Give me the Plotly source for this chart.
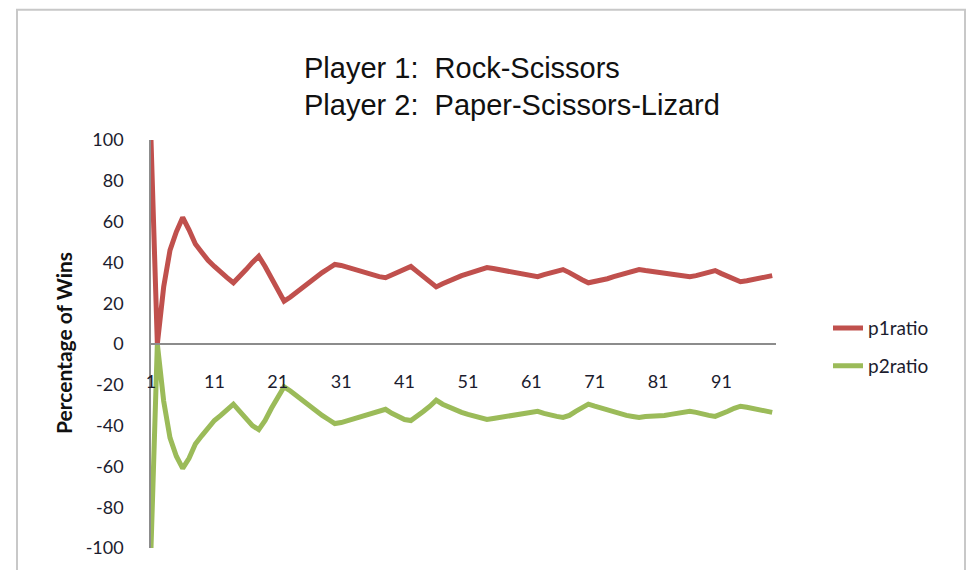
import plotly.graph_objects as go

# Game number (1..99) and running win percentages for each player
games = list(range(1, 100))

p1ratio = [
    100, 0, 28, 46, 55, 62, 56, 49, 45, 41,
    38, 35, 32.5, 30, 33, 36.5, 40, 43, 38, 32,
    26, 21, 23, 25.5, 27.5, 30, 32.5, 35, 37, 39,
    38.5, 37.5, 37, 36, 35, 34, 33, 32.5, 34, 35.5,
    37, 38, 35.5, 33, 30.5, 28, 29.5, 31, 32, 33.5,
    34.5, 35.5, 36.5, 37.5, 37, 36.5, 36, 35.5, 35, 34,
    33.5, 33, 34, 35, 35.5, 36.5, 35, 33, 31.5, 30,
    30.5, 31.5, 32, 33, 34, 35, 35.5, 36.5, 36, 35.5,
    35.5, 35, 34.5, 34, 33.5, 33, 33.5, 34.5, 35, 36,
    34.5, 33, 31.5, 30.5, 31, 31.5, 32.5, 33, 33.5,
]

p2ratio = [
    -100, 0, -28, -46, -55, -61, -56, -49, -45, -41,
    -37.5, -35, -32, -29.5, -33, -36.5, -40, -42, -37.5, -31.5,
    -26, -21, -23, -25.5, -27.5, -30, -32.5, -35, -37, -39,
    -38.5, -37.5, -37, -36, -35, -34, -33, -32, -34, -35.5,
    -37, -37.5, -35.5, -33, -30.5, -27.5, -29.5, -31, -32, -33.5,
    -34.5, -35.5, -36.5, -37, -36.5, -36, -36, -35.5, -35, -34,
    -33.5, -33, -34, -35, -35.5, -36, -35, -33, -31.5, -29.5,
    -30.5, -31.5, -32, -33, -34, -35, -35.5, -36, -35.5, -35.5,
    -35, -35, -34.5, -34, -33.5, -33, -33.5, -34.5, -35, -35.5,
    -34.5, -33, -31.5, -30.5, -31, -31.5, -32.5, -33, -33.5,
]

x_ticks = [1, 11, 21, 31, 41, 51, 61, 71, 81, 91]
y_ticks = [100, 80, 60, 40, 20, 0, -20, -40, -60, -80, -100]
y_tick_text = ["100", "80", "60", "40", "20", "0",
               "-20", "-40", "-60", "-80", "-100"]

RED = "#C0504D"
GREEN = "#9BBB59"
LABEL = "#1c1c2e"
AXIS = "#8c8c8c"

W, H = 969, 570
L, R, T, B = 151, 193, 140, 20
pw, ph = W - L - R, H - T - B


def px_x(p):
    return (p - L) / pw


def px_y(p):
    return 1 - (p - T) / ph


fig = go.Figure()
fig.add_trace(go.Scatter(x=games, y=p1ratio, mode="lines", name="p1ratio",
                         legendgroup="a",
                         line=dict(color=RED, width=5)))
fig.add_trace(go.Scatter(x=games, y=p2ratio, mode="lines", name="p2ratio",
                         legendgroup="b",
                         line=dict(color=GREEN, width=5)))

fig.update_layout(
    width=W, height=H,
    margin=dict(l=L, r=R, t=T, b=B),
    paper_bgcolor="white", plot_bgcolor="white",
    font=dict(family="Lato", color=LABEL, size=18),
    showlegend=True,
    legend=dict(x=px_x(828), y=px_y(310), xanchor="left", yanchor="top",
                font=dict(family="Lato", size=19, color=LABEL),
                tracegroupgap=10, itemwidth=30, bgcolor="rgba(0,0,0,0)"),
    xaxis=dict(range=[1, 99.6], tickmode="array", tickvals=x_ticks,
               ticktext=[str(v) for v in x_ticks],
               showgrid=False, zeroline=False, showline=True,
               linecolor=AXIS, linewidth=1.5,
               anchor="free", position=0.5, ticks="",
               ticklabelstandoff=22,
               tickfont=dict(family="Lato", size=18, color=LABEL)),
    yaxis=dict(range=[-100, 100], tickmode="array", tickvals=y_ticks,
               ticktext=y_tick_text,
               showgrid=False, zeroline=False, showline=True,
               linecolor=AXIS, linewidth=1.5, ticks="",
               ticklabelstandoff=22,
               tickfont=dict(family="Lato", size=18, color=LABEL)),
)

# Chart title lines
fig.add_annotation(text="Player 1:  Rock-Scissors", xref="paper", yref="paper",
                   x=px_x(302), y=px_y(68), xanchor="left", yanchor="middle",
                   showarrow=False,
                   font=dict(family="Liberation Sans", size=29, color="#111111"))
fig.add_annotation(text="Player 2:  Paper-Scissors-Lizard", xref="paper", yref="paper",
                   x=px_x(302), y=px_y(105), xanchor="left", yanchor="middle",
                   showarrow=False,
                   font=dict(family="Liberation Sans", size=29, color="#111111"))

# Vertical axis title
fig.add_annotation(text="<b>Percentage of Wins</b>", xref="paper", yref="paper",
                   x=px_x(63), y=px_y(344), xanchor="center", yanchor="middle",
                   textangle=-90, showarrow=False,
                   font=dict(family="Lato", size=21, color="#111111"))

# Chart frame
fig.add_shape(type="rect", xref="paper", yref="paper",
              x0=px_x(17), x1=px_x(965), y0=px_y(600), y1=px_y(9),
              line=dict(color="#c8c8c8", width=2), fillcolor="rgba(0,0,0,0)",
              layer="below")

fig.write_html("out.html")
